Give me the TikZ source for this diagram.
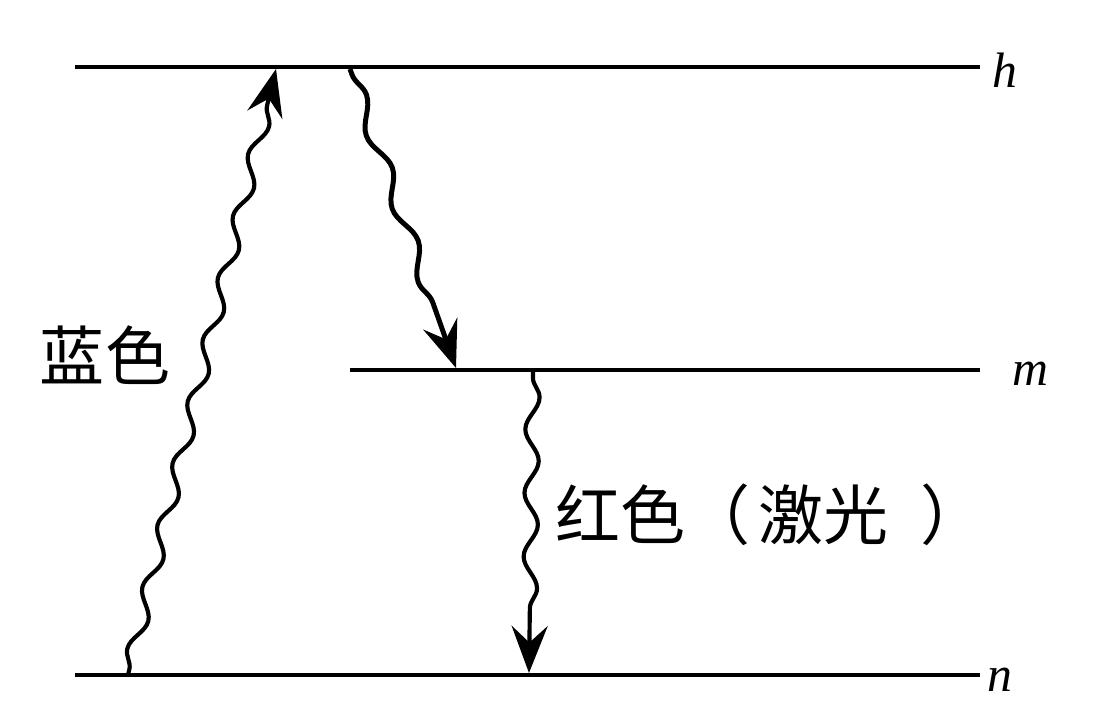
\documentclass[tikz,border=0pt]{standalone}
\usepackage{fontspec}
\setmainfont{Liberation Serif}
\newfontfamily\cjk{Noto Sans CJK SC}
\usetikzlibrary{arrows.meta,decorations.pathmorphing}

\begin{document}
\begin{tikzpicture}[x=0.0254cm, y=-0.0254cm]

	% ---- styles
	\tikzset{
		level/.style={line width=2.9pt},
		wave/.style={line width=3pt, decorate,
			decoration={snake, segment length=46, amplitude=5, pre length=4, post length=24},
			-{Stealth[length=34, width=26, inset=12]}},
		lbl/.style={font=\fontsize{36}{40}\selectfont\itshape, inner sep=0pt},
		txt/.style={font=\cjk\fontsize{47}{52}\selectfont, inner sep=0pt}
	}

	\useasboundingbox (0,0) rectangle (1096,718);

	% ---- energy levels
	\coordinate (h1) at (75,67);   \coordinate (h2) at (980,67);
	\coordinate (m1) at (350,370); \coordinate (m2) at (980,370);
	\coordinate (n1) at (75,675);  \coordinate (n2) at (980,675);

	\draw[level] (h1) -- (h2);
	\draw[level] (m1) -- (m2);
	\draw[level] (n1) -- (n2);

	\node[lbl] (hl) at (1005,70) {h};
	\node[lbl] (ml) at (1030,374) {m};
	\node[lbl] (nl) at (1000,680) {n};

	% ---- transitions
	\coordinate (A0) at (128,675); \coordinate (A1) at (276,69);
	\coordinate (B0) at (350,69);  \coordinate (B1) at (456,368);
	\coordinate (C0) at (533,372); \coordinate (C1) at (529,673);

	\draw[wave] (A0) -- (A1);
	\draw[wave, line width=3.6pt, decoration={segment length=56}] (B0) -- (B1);
	\draw[wave] (C0) -- (C1);

	% ---- texts
	\node[txt] (blue) at (105,355) {蓝色};
	\node[txt, anchor=west] (red) at (555,515) {红色（\hspace{6pt}激光\hspace{23pt}）};

\end{tikzpicture}
\end{document}
